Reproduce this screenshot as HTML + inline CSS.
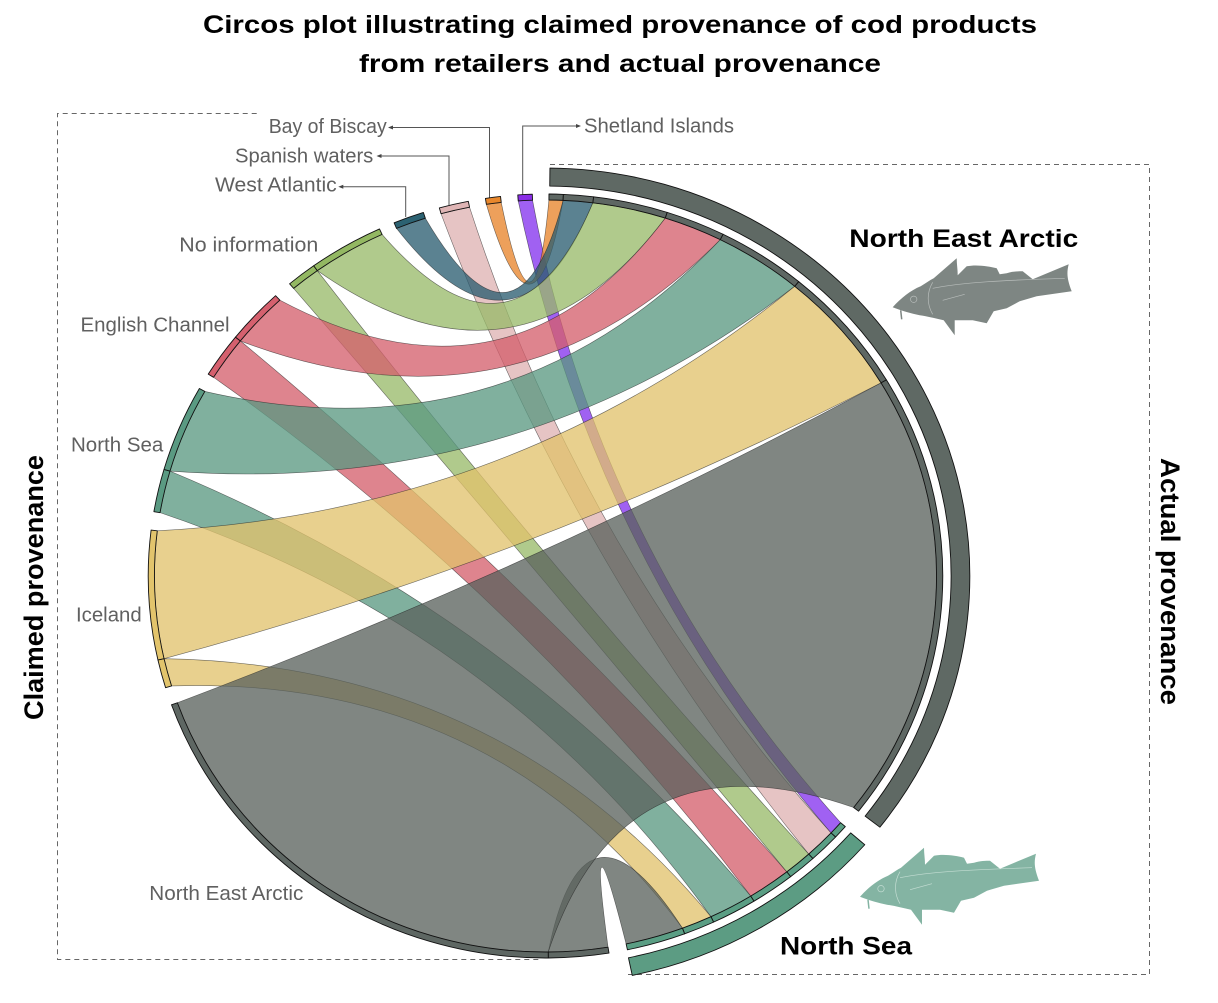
<!DOCTYPE html>
<html><head><meta charset="utf-8">
<style>
html,body{margin:0;padding:0;background:#fff;}
svg{display:block;}
.lab{font-family:"Liberation Sans",sans-serif;font-size:20px;fill:#606060;}
.big{font-family:"Liberation Sans",sans-serif;font-weight:bold;fill:#000;}
</style></head><body>
<svg id="s" width="1218" height="1003" viewBox="0 0 1218 1003" xmlns="http://www.w3.org/2000/svg">
<rect width="1218" height="1003" fill="#fff"/>

<!-- Title -->
<text class="big" x="620" y="33" font-size="25" text-anchor="middle" textLength="834" lengthAdjust="spacingAndGlyphs">Circos plot illustrating claimed provenance of cod products</text>
<text class="big" x="620" y="72" font-size="25" text-anchor="middle" textLength="522" lengthAdjust="spacingAndGlyphs">from retailers and actual provenance</text>

<!-- dashed boxes -->
<path d="M256.7,113.5 H57.5 V959.5 H540" fill="none" stroke="#666" stroke-width="1" stroke-dasharray="5,4"/>
<path d="M550,164.5 H1149.5 V974.5 H628" fill="none" stroke="#666" stroke-width="1" stroke-dasharray="5,4"/>

<!-- leader lines -->
<g fill="none" stroke="#555" stroke-width="1">
<path d="M489.5,199 V127.5 H392"/>
<path d="M449,205 V156 H380"/>
<path d="M405.7,217 V186.7 H342"/>
<path d="M522.7,196 V126 H577"/>
</g>
<g fill="#444">
<polygon points="388,127.5 393,125.5 393,129.5"/>
<polygon points="376.5,156 381.5,154 381.5,158"/>
<polygon points="338.3,186.7 343.3,184.7 343.3,188.7"/>
<polygon points="581,126 576,124 576,128"/>
</g>

<!-- chart -->
<g id="chart" transform="translate(545.5,576) scale(1.04,1)"></g>

<!-- sector labels -->
<text class="lab" x="268.7" y="133" textLength="118" lengthAdjust="spacingAndGlyphs">Bay of Biscay</text>
<text class="lab" x="235" y="162.5" textLength="138.3" lengthAdjust="spacingAndGlyphs">Spanish waters</text>
<text class="lab" x="215" y="191.5" textLength="121.7" lengthAdjust="spacingAndGlyphs">West Atlantic</text>
<text class="lab" x="584" y="132.7" textLength="150" lengthAdjust="spacingAndGlyphs">Shetland Islands</text>
<text class="lab" x="179.3" y="251.5" textLength="139" lengthAdjust="spacingAndGlyphs">No information</text>
<text class="lab" x="80.5" y="331.5" textLength="149" lengthAdjust="spacingAndGlyphs">English Channel</text>
<text class="lab" x="71" y="451.7" textLength="92.3" lengthAdjust="spacingAndGlyphs">North Sea</text>
<text class="lab" x="76" y="621.7" textLength="65.7" lengthAdjust="spacingAndGlyphs">Iceland</text>
<text class="lab" x="149.3" y="900" textLength="154" lengthAdjust="spacingAndGlyphs">North East Arctic</text>

<!-- bold labels -->
<text class="big" x="849.3" y="247" font-size="25" textLength="229" lengthAdjust="spacingAndGlyphs">North East Arctic</text>
<text class="big" x="780" y="954.5" font-size="25" textLength="132" lengthAdjust="spacingAndGlyphs">North Sea</text>
<text class="big" font-size="27" text-anchor="middle" transform="translate(43,587.5) rotate(-90)" textLength="265" lengthAdjust="spacingAndGlyphs">Claimed provenance</text>
<text class="big" font-size="27" text-anchor="middle" transform="translate(1161,581.5) rotate(90)" textLength="247" lengthAdjust="spacingAndGlyphs">Actual provenance</text>

<!-- fish icons -->
<g transform="translate(892.7,258.3)">
<path d="M0,49 C8,40 18,32 28,28 C33,25 37,22 41,20 L64,0 C64,6 65,11 65,17 C68,14 71,11 74,8 C84,6 96,8 104,10 L107,16 L114,15 C120,13 126,13 130,13 L140,21 L176,6 C174,14 174,20 179,33 L144,38 L127,43 L114,50 L101,53 L94,65 L80,62 L62,62 L62,77 L51,62 C42,60 34,58 27,57 C18,55 10,53 0,49 Z" fill="#7e8683"/>
<path d="M8,52 L9,61" stroke="#7e8683" stroke-width="1.5" fill="none"/>
<circle cx="21" cy="41" r="3.2" fill="none" stroke="#b8bdbb" stroke-width="0.7"/>
<path d="M40,24 C34,34 34,46 40,56 M40,30 C70,24 110,22 172,20 M50,42 L72,36" fill="none" stroke="#b8bdbb" stroke-width="0.7"/>
</g>
<g transform="translate(860,847.7)">
<path d="M0,49 C8,40 18,32 28,28 C33,25 37,22 41,20 L64,0 C64,6 65,11 65,17 C68,14 71,11 74,8 C84,6 96,8 104,10 L107,16 L114,15 C120,13 126,13 130,13 L140,21 L176,6 C174,14 174,20 179,33 L144,38 L127,43 L114,50 L101,53 L94,65 L80,62 L62,62 L62,77 L51,62 C42,60 34,58 27,57 C18,55 10,53 0,49 Z" fill="#84b4a3"/>
<path d="M8,52 L9,61" stroke="#84b4a3" stroke-width="1.5" fill="none"/>
<circle cx="21" cy="41" r="3.2" fill="none" stroke="#c4ddd3" stroke-width="0.7"/>
<path d="M40,24 C34,34 34,46 40,56 M40,30 C70,24 110,22 172,20 M50,42 L72,36" fill="none" stroke="#c4ddd3" stroke-width="0.7"/>
</g>
</svg>
<script>
(function(){
var NSURI='http://www.w3.org/2000/svg';
var g=document.getElementById('chart');
var R0=376,R1=382,RO0=390,RO1=408;
function pt(a,r){var t=a*Math.PI/180;return [r*Math.sin(t),-r*Math.cos(t)];}
function f(p){return p[0].toFixed(2)+','+p[1].toFixed(2);}
function arc(a0,a1,r,sw){var la=(Math.abs(a1-a0)>180)?1:0;return 'A'+r+','+r+' 0 '+la+' '+sw+' '+f(pt(a1,r));}
function ctrl(a,b){
  var d=Math.abs(a-b)%360; if(d>180)d=360-d;
  var K=0.58-0.0016*d;
  var p=pt(a,R0),q=pt(b,R0);return [K*(p[0]+q[0])/2,K*(p[1]+q[1])/2];}
function add(d,fill,op,stroke,sw,sop){
  var e=document.createElementNS(NSURI,'path');e.setAttribute('d',d);e.setAttribute('fill',fill);
  if(op!=null)e.setAttribute('fill-opacity',op);
  if(stroke){e.setAttribute('stroke',stroke);e.setAttribute('stroke-width',sw);
    if(sop!=null)e.setAttribute('stroke-opacity',sop);
    e.setAttribute('vector-effect','non-scaling-stroke');e.setAttribute('stroke-linejoin','round');}
  g.appendChild(e);}
function chord(c,s0,s1,t0,t1){
  var d='M'+f(pt(s0,R0))+arc(s0,s1,R0,1)+'Q'+f(ctrl(s1,t0))+' '+f(pt(t0,R0))+arc(t0,t1,R0,1)+'Q'+f(ctrl(t1,s0))+' '+f(pt(s0,R0))+'Z';
  add(d,c,0.77,'#222',0.6,0.65);}
function band(a0,a1,ri,ro,c){
  var d='M'+f(pt(a0,ro))+arc(a0,a1,ro,1)+'L'+f(pt(a1,ri))+arc(a1,a0,ri,0)+'Z';
  add(d,c,null,'#111',0.9,1);}
var C={grey:'#5a615d',yel:'#e1c26c',teal:'#5a9881',red:'#d45f6c',grn:'#98ba6a',blue:'#295d70',pink:'#dfb2b2',org:'#e88429',pur:'#8331ee'};
var nsGroup=[
 [C.pur,356,358.1,131,133.1],
 [C.pink,344.5,348.8,133.1,137.7],
 [C.grn,319.9,324.3,137.7,141.9],
 [C.red,301.9,308.7,141.9,148.35],
 [C.teal,279.7,286.2,148.35,154.97],
 [C.yel,253,257.3,154.97,159.5],
 [C.grey,170.8,179.6,159.5,168.1]];
var neaGroup=[
 [C.org,351.3,353.5,0.5,2.58],
 [C.blue,337.6,342.1,2.58,6.96],
 [C.grn,324.3,335.3,6.96,17.84],
 [C.red,308.7,317.2,17.84,26.55],
 [C.teal,286.2,299.4,26.55,39.6],
 [C.yel,257.3,276.9,39.6,59.1],
 [C.grey,179.6,250.3,59.1,128]];
nsGroup.forEach(function(x){chord.apply(null,x);});
neaGroup.forEach(function(x){chord.apply(null,x);});
var claimed=[
 [170.8,179.6,'#5e6763'],[179.6,250.3,'#5e6763'],
 [253,257.3,'#e2c46c'],[257.3,276.9,'#e2c46c'],
 [279.7,286.2,'#5a9a82'],[286.2,299.4,'#5a9a82'],
 [301.9,308.7,'#d5606e'],[308.7,317.2,'#d5606e'],
 [319.9,324.3,'#93b862'],[324.3,335.3,'#93b862'],
 [337.6,342.1,'#2c6272'],
 [344.5,348.8,'#dfb5b5'],
 [351.3,353.5,'#e8872c'],
 [356,358.1,'#8a2ee6']];
claimed.forEach(function(x){band(x[0],x[1],R0,R1,x[2]);});
var nea=[0.5,2.58,6.96,17.84,26.55,39.6,59.1,128];
for(var i=0;i<nea.length-1;i++)band(nea[i],nea[i+1],R0,R1,'#5e6763');
var ns=[131,133.1,137.7,141.9,148.35,154.97,159.5,168.1];
for(var j=0;j<ns.length-1;j++)band(ns[j],ns[j+1],R0,R1,'#5a9e84');
band(0.6,128,RO0,RO1,'#5f6964');
band(131.2,168.2,RO0,RO1,'#5c9c83');
})();
</script>
</body></html>
